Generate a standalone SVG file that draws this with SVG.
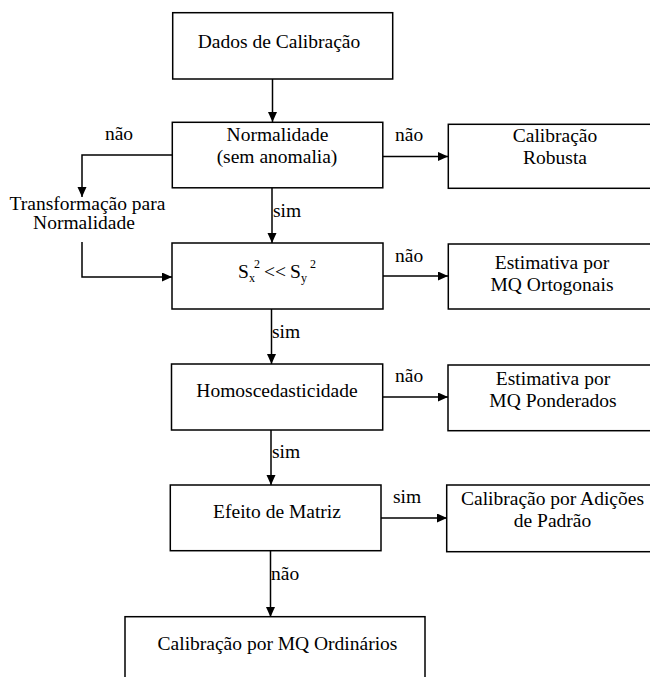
<svg xmlns="http://www.w3.org/2000/svg" width="650" height="677" viewBox="0 0 650 677">
<defs>
<marker id="ah" markerUnits="userSpaceOnUse" markerWidth="11" markerHeight="10" refX="10" refY="4.5" orient="auto">
<path d="M0,0 L10,4.5 L0,9 z" fill="#000"/>
</marker>
<style>
rect{fill:#fff;stroke:#000;stroke-width:1.5}
text{font-family:'Liberation Serif','DejaVu Serif',serif;font-size:19.5px;fill:#000}
.c{text-anchor:middle}
.e{fill:none;stroke:#000;stroke-width:1.5;marker-end:url(#ah)}
.s{font-size:12px}
</style>
</defs>
<rect x="0" y="0" width="650" height="677" style="fill:#fff;stroke:none"/>
<g id="connectors">
<path class="e" d="M272.5,79 V122"/>
<path class="e" d="M172,155 H82 V197"/>
<path class="e" d="M82,242 V277 H172"/>
<path class="e" d="M383,156.5 H448"/>
<path class="e" d="M272,188 V243"/>
<path class="e" d="M383,276 H448"/>
<path class="e" d="M271.5,309 V364"/>
<path class="e" d="M383,397 H448"/>
<path class="e" d="M271,430 V485"/>
<path class="e" d="M381,518 H447"/>
<path class="e" d="M270.5,551 V617"/>
<text x="119" y="140" class="c">não</text>
<text x="395" y="141">não</text>
<text x="273" y="217">sim</text>
<text x="395" y="262">não</text>
<text x="272" y="338">sim</text>
<text x="395" y="382">não</text>
<text x="272" y="458">sim</text>
<text x="393" y="503">sim</text>
<text x="271" y="580">não</text>
</g>
<g id="n-dados">
<rect x="172.7" y="12.7" width="220" height="66.3"/>
<text x="279" y="48" class="c">Dados de Calibração</text>
</g>
<g id="n-normalidade">
<rect x="172.3" y="122.3" width="210.5" height="65.5"/>
<text x="277.5" y="141" class="c">Normalidade</text>
<text x="277" y="163" class="c">(sem anomalia)</text>
</g>
<g id="n-transformacao">
<text x="87.5" y="210" class="c">Transformação para</text>
<text x="84" y="229" class="c">Normalidade</text>
</g>
<g id="n-robusta">
<rect x="448.3" y="124.3" width="214" height="64"/>
<text x="555" y="142" class="c">Calibração</text>
<text x="555" y="164" class="c">Robusta</text>
</g>
<g id="n-sx">
<rect x="172" y="243" width="211" height="66"/>
<text x="238" y="278">S</text>
<text x="249" y="282" class="s">x</text>
<text x="254" y="268" class="s">2</text>
<text x="264" y="278">&lt;&lt;</text>
<text x="290" y="278">S</text>
<text x="301" y="282" class="s">y</text>
<text x="310" y="268" class="s">2</text>
</g>
<g id="n-ortogonais">
<rect x="448.3" y="244" width="214" height="65"/>
<text x="552" y="268.5" class="c">Estimativa por</text>
<text x="552" y="290.5" class="c">MQ Ortogonais</text>
</g>
<g id="n-homo">
<rect x="171.5" y="364" width="211.2" height="66"/>
<text x="277" y="397" class="c">Homoscedasticidade</text>
</g>
<g id="n-ponderados">
<rect x="448" y="365" width="214" height="65.7"/>
<text x="553" y="385" class="c">Estimativa por</text>
<text x="553" y="407" class="c">MQ Ponderados</text>
</g>
<g id="n-efeito">
<rect x="170.3" y="485" width="210.7" height="65.7"/>
<text x="277" y="518" class="c">Efeito de Matriz</text>
</g>
<g id="n-adicoes">
<rect x="446.7" y="485" width="216" height="66.7"/>
<text x="552.5" y="505" class="c">Calibração por Adições</text>
<text x="552.5" y="527" class="c">de Padrão</text>
</g>
<g id="n-ordinarios">
<rect x="125" y="616.7" width="300" height="80"/>
<text x="277.5" y="650" class="c">Calibração por MQ Ordinários</text>
</g>
</svg>
